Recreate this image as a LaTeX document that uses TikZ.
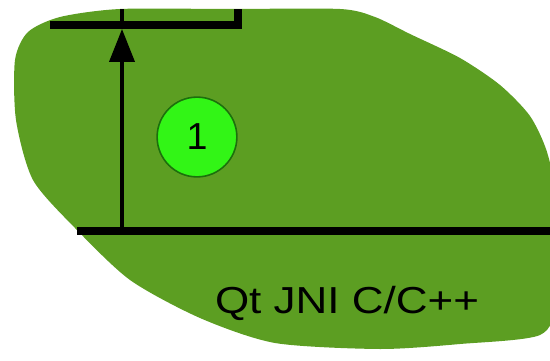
\documentclass[tikz,border=0pt]{standalone}
\usepackage{fontspec}
\setmainfont{Liberation Sans}
\usetikzlibrary{arrows.meta}
\definecolor{leafgreen}{RGB}{92,158,34}
\definecolor{litegreen}{RGB}{50,245,22}
\definecolor{rimgreen}{RGB}{28,112,12}

\begin{document}
\begin{tikzpicture}[x=0.02cm, y=-0.02cm,
    region/.style={fill=leafgreen},
    wall/.style={line width=4.5pt, line join=miter},
    link/.style={line width=2.2pt},
    arrow/.style={link, -{Triangle[length=18.7pt, width=14.2pt]}},
    marker/.style={circle, draw=rimgreen, fill=litegreen, line width=0.9pt,
        minimum size=45.4pt, inner sep=0pt, font=\fontsize{21.4}{24}\selectfont},
    label/.style={anchor=base, inner sep=0pt, font=\fontsize{21.4}{24}\selectfont}]
\useasboundingbox (0,0) rectangle (550,361);
\clip (0,0) rectangle (550,361);
% green area
\fill[region] plot[smooth cycle, tension=0.45] coordinates {
    (120,9) (230,9) (340,9) (375,17) (410,34) (460,58) (500,85) (530,116)
    (547,152) (556,200) (556,300) (540,335) (460,344) (380,349) (275,343)
    (200,318) (130,280) (75,228) (33,180) (16,120) (15,60) (28,32) (60,17)};
% borders
\coordinate (tl) at (50,25);
\coordinate (tc) at (238,25);
\coordinate (tr) at (238,9);
\coordinate (bl) at (77,231);
\coordinate (br) at (552,231);
\coordinate (up) at (122,231);
\coordinate (hit) at (122,29);
\coordinate (top) at (122,9);
\draw[wall] (tl) -- (tc) -- (tr);
\draw[wall] (bl) -- (br);
\draw[arrow] (up) -- (hit);
\draw[link] (hit) -- (top);
\node[marker] (num) at (197,137) {1};
\node[label] (lang) at (347,313) {\scalebox{1.17}[1]{Qt JNI C/C++}};
\end{tikzpicture}
\end{document}
